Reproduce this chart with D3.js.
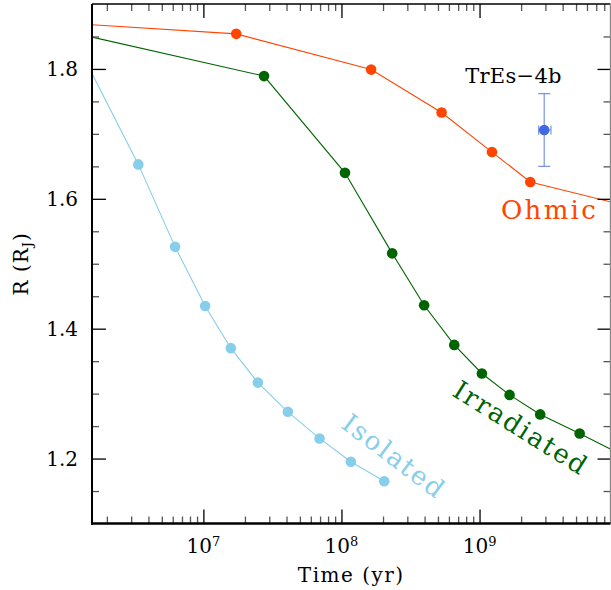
<!DOCTYPE html>
<html><head><meta charset="utf-8">
<script src="https://cdn.jsdelivr.net/npm/d3@7"></script>
<style>
body{margin:0;background:#fff}
svg{display:block}
text{font-family:"DejaVu Serif",serif}
</style>
</head><body>
<svg id="c" width="611" height="590"></svg>
<script>
// ---- data (time in yr, radius in R_J) ----
const ohmicT = [1.73e7, 1.64e8, 5.31e8, 1.23e9, 2.33e9];
const ohmicR = [1.854, 1.799, 1.733, 1.672, 1.626];
const ohmicStart = [1.56e6, 1.868];
const ohmicEnd = [9.0e9, 1.595];

const irrT = [2.75e7, 1.06e8, 2.33e8, 3.97e8, 6.56e8, 1.04e9, 1.65e9, 2.75e9, 5.31e9];
const irrR = [1.789, 1.640, 1.516, 1.436, 1.375, 1.331, 1.298, 1.268, 1.2385];
const irrStart = [1.56e6, 1.849];
const irrEnd = [9.0e9, 1.214];

const isoT = [3.38e6, 6.24e6, 1.03e7, 1.58e7, 2.48e7, 4.09e7, 6.94e7, 1.17e8, 2.04e8];
const isoR = [1.653, 1.526, 1.435, 1.370, 1.317, 1.272, 1.231, 1.195, 1.165];
const isoStart = [1.56e6, 1.793];

const tresT = 2.94e9, tresTlo = 2.68e9, tresThi = 3.29e9;
const tresR = 1.706, tresRerr = 0.056;

const xMajor = [1e7, 1e8, 1e9];
const xMinor = [2e6,3e6,4e6,5e6,6e6,7e6,8e6,9e6,2e7,3e7,4e7,5e7,6e7,7e7,8e7,9e7,2e8,3e8,4e8,5e8,6e8,7e8,8e8,9e8,2e9,3e9,4e9,5e9,6e9,7e9,8e9];
const yMajor = [1.2, 1.4, 1.6, 1.8];
const yMinor = [1.15, 1.25, 1.3, 1.35, 1.45, 1.5, 1.55, 1.65, 1.7, 1.75, 1.85];

const colOhm = "#ff4500", colIrr = "#006400", colIso = "#87ceeb", colTres = "#4169e1";

// ---- layout ----
const L = 92, R = 610.5, T = 4, B = 523.5;
const svg = d3.select("#c");
const x = d3.scaleLog().domain([1.561e6, 8.88e9]).range([L, R]);
const y = d3.scaleLinear().domain([1.1, 1.9]).range([B, T]);

svg.append("clipPath").attr("id","clip").append("rect")
  .attr("x",L).attr("y",T).attr("width",R-L).attr("height",B-T);

const plot = svg.append("g").attr("clip-path","url(#clip)");
const line = d3.line().x(d=>x(d[0])).y(d=>y(d[1]));

function series(ts, rs, start, end, color){
  const pts = ts.map((t,i)=>[t, rs[i]]);
  const lp = [start, ...pts];
  if(end) lp.push(end);
  plot.append("path").datum(lp).attr("d",line)
    .attr("fill","none").attr("stroke",color).attr("stroke-width",1.1);
  plot.selectAll(null).data(pts).enter().append("circle")
    .attr("cx",d=>x(d[0])).attr("cy",d=>y(d[1])).attr("r",5.3).attr("fill",color);
}
series(isoT, isoR, isoStart, null, colIso);
series(irrT, irrR, irrStart, irrEnd, colIrr);
series(ohmicT, ohmicR, ohmicStart, ohmicEnd, colOhm);

// TrEs-4b data point
const eb = plot.append("g").attr("stroke",colTres).attr("stroke-width",1.2).attr("stroke-opacity",0.7);
eb.append("line").attr("x1",x(tresT)).attr("x2",x(tresT)).attr("y1",y(tresR-tresRerr)).attr("y2",y(tresR+tresRerr));
eb.append("line").attr("x1",x(tresT)-6).attr("x2",x(tresT)+6).attr("y1",y(tresR-tresRerr)).attr("y2",y(tresR-tresRerr));
eb.append("line").attr("x1",x(tresT)-6).attr("x2",x(tresT)+6).attr("y1",y(tresR+tresRerr)).attr("y2",y(tresR+tresRerr));
eb.append("line").attr("x1",x(tresTlo)).attr("x2",x(tresThi)).attr("y1",y(tresR)).attr("y2",y(tresR));
eb.append("line").attr("x1",x(tresTlo)).attr("x2",x(tresTlo)).attr("y1",y(tresR)-4.5).attr("y2",y(tresR)+4.5);
eb.append("line").attr("x1",x(tresThi)).attr("x2",x(tresThi)).attr("y1",y(tresR)-4.5).attr("y2",y(tresR)+4.5);
plot.append("circle").attr("cx",x(tresT)).attr("cy",y(tresR)).attr("r",5.3).attr("fill",colTres);

// ---- axes / ticks ----
function tickAxis(axis, vals, size, color, tx, ty){
  const g = svg.append("g").attr("transform",`translate(${tx},${ty})`)
    .call(axis.tickValues(vals).tickSize(size).tickSizeOuter(0).tickFormat(""));
  g.select(".domain").remove();
  g.selectAll(".tick line").attr("stroke",color).attr("stroke-width",1.3);
  g.selectAll(".tick text").remove();
  return g;
}
tickAxis(d3.axisBottom(x), xMinor, -7, "#555", 0, B);
tickAxis(d3.axisBottom(x), xMajor, -14, "#000", 0, B);
tickAxis(d3.axisTop(x), xMinor, -7, "#555", 0, T);
tickAxis(d3.axisTop(x), xMajor, -14, "#000", 0, T);
tickAxis(d3.axisLeft(y), yMinor, -7, "#555", L, 0);
tickAxis(d3.axisLeft(y), yMajor, -14, "#000", L, 0);
tickAxis(d3.axisRight(y), yMinor, -7, "#555", R, 0);
tickAxis(d3.axisRight(y), yMajor, -13, "#000", R, 0);

// tick labels
svg.append("g").selectAll("text").data(xMajor).enter().append("text")
  .attr("x",d=>x(d)).attr("y",B+29.5).attr("text-anchor","middle").attr("font-size",20)
  .each(function(d){
    const t = d3.select(this);
    t.append("tspan").text("10");
    t.append("tspan").attr("dy",-7).attr("font-size",13).text(Math.round(Math.log10(d)));
  });
svg.append("g").selectAll("text").data(yMajor).enter().append("text")
  .attr("x",L-14).attr("y",d=>y(d)+7.2).attr("text-anchor","end").attr("font-size",20)
  .text(d=>d3.format(".1f")(d));

// frame
svg.append("line").attr("x1",L).attr("x2",R).attr("y1",T).attr("y2",T).attr("stroke","#000").attr("stroke-width",1.4);
svg.append("line").attr("x1",R).attr("x2",R).attr("y1",T).attr("y2",B).attr("stroke","#888").attr("stroke-width",1.4);
svg.append("line").attr("x1",L).attr("x2",L).attr("y1",T).attr("y2",B+1.3).attr("stroke","#000").attr("stroke-width",2);
svg.append("line").attr("x1",L-1).attr("x2",R).attr("y1",B).attr("y2",B).attr("stroke","#000").attr("stroke-width",2.6);

// axis titles
svg.append("text").attr("x",(L+R)/2).attr("y",581.7).attr("text-anchor","middle")
  .attr("font-size",20).attr("letter-spacing",1.5).text("Time (yr)");
const yt = svg.append("text").attr("transform",`translate(28,${(T+B)/2}) rotate(-90)`)
  .attr("text-anchor","middle").attr("font-size",20).attr("letter-spacing",1);
yt.append("tspan").text("R (R");
yt.append("tspan").attr("dy",4).attr("font-size",13).text("J");
yt.append("tspan").attr("dy",-4).text(")");

// curve labels
svg.append("text").attr("x",513.5).attr("y",83.3).attr("text-anchor","middle")
  .attr("font-size",21).attr("letter-spacing",0.3).attr("fill","#000").text("TrEs\u22124b");
svg.append("text").attr("x",501).attr("y",219).attr("font-size",26).attr("letter-spacing",2.3)
  .attr("fill",colOhm).text("Ohmic");
svg.append("text").attr("transform","translate(451,395) rotate(32)").attr("font-size",26)
  .attr("letter-spacing",2).attr("fill",colIrr).text("Irradiated");
svg.append("text").attr("transform","translate(340,427) rotate(37)").attr("font-size",26)
  .attr("letter-spacing",2).attr("fill",colIso).text("Isolated");
</script>
</body></html>
